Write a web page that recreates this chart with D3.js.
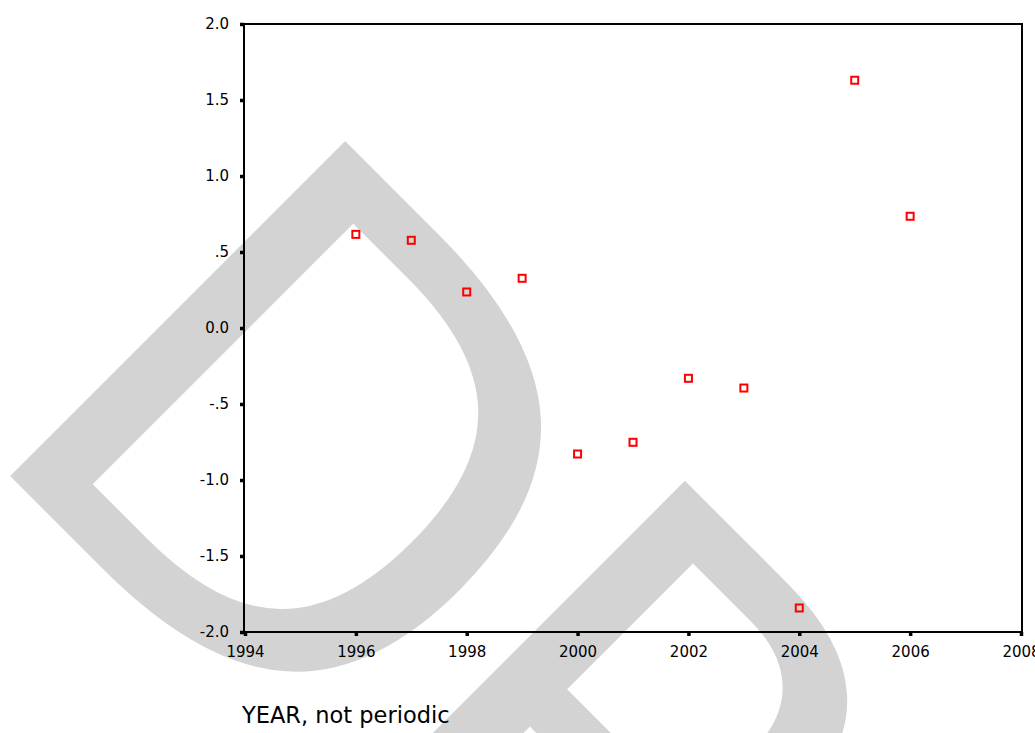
<!DOCTYPE html>
<html>
<head>
<meta charset="utf-8">
<script src="https://cdn.jsdelivr.net/npm/d3@7"></script>
<style>
  body { margin: 0; background: #fff; }
  svg { display: block; font-family: "DejaVu Sans", sans-serif; }
</style>
</head>
<body>
<svg id="chart"></svg>
<script>
// values
var years = [1996, 1997, 1998, 1999, 2000, 2001, 2002, 2003, 2004, 2005, 2006];
var values = [0.616, 0.577, 0.237, 0.327, -0.829, -0.752, -0.331, -0.395, -1.842, 1.630, 0.735];
var xTicks = [1994, 1996, 1998, 2000, 2002, 2004, 2006, 2008];
var yTicks = [-2, -1.5, -1, -0.5, 0, 0.5, 1, 1.5, 2];
var yTickLabels = ['-2.0', '-1.5', '-1.0', '-.5', '0.0', '.5', '1.0', '1.5', '2.0'];
var xTitle = 'YEAR, not periodic';

var width = 1035, height = 733;
var plotLeft = 244, plotTop = 24, plotRight = 1022, plotBottom = 632;

var svg = d3.select('#chart')
    .attr('width', width)
    .attr('height', height);

// watermark behind everything
svg.append('text')
    .attr('transform', 'translate(-35,431) rotate(45)')
    .style('font-size', '650px')
    .style('letter-spacing', '-20px')
    .attr('fill', '#d3d3d3')
    .text('DP');

var x = d3.scaleLinear().domain([1994, 2008]).range([plotLeft + 1, plotRight - 1]);
var y = d3.scaleLinear().domain([-2, 2]).range([plotBottom, plotTop]);

var yAxis = svg.append('g')
    .attr('transform', `translate(${plotLeft},0)`)
    .call(d3.axisLeft(y)
        .tickValues(yTicks)
        .tickFormat((d, i) => yTickLabels[i])
        .tickSize(4)
        .tickPadding(11));

var xAxis = svg.append('g')
    .attr('transform', `translate(0,${plotBottom})`)
    .call(d3.axisBottom(x)
        .tickValues(xTicks)
        .tickFormat(d3.format('d'))
        .tickSize(4)
        .tickPadding(10));

[xAxis, yAxis].forEach(g => {
    g.select('.domain').remove();
    g.selectAll('.tick line').attr('stroke', '#000').attr('stroke-width', 3.5);
    g.selectAll('.tick text')
        .attr('fill', '#000')
        .style('font-size', '15px')
        .style('font-family', '"DejaVu Sans", sans-serif');
});

svg.append('rect')
    .attr('x', plotLeft)
    .attr('y', plotTop)
    .attr('width', plotRight - plotLeft)
    .attr('height', plotBottom - plotTop)
    .attr('fill', 'none')
    .attr('stroke', '#000')
    .attr('stroke-width', 2);

svg.append('g')
    .selectAll('rect')
    .data(years.map((d, i) => ({year: d, value: values[i]})))
    .enter()
    .append('rect')
        .attr('x', d => x(d.year) - 3.5)
        .attr('y', d => y(d.value) - 3.5)
        .attr('width', 7)
        .attr('height', 7)
        .attr('fill', 'none')
        .attr('stroke', '#ff0000')
        .attr('stroke-width', 2);

svg.append('text')
    .attr('x', 242)
    .attr('y', 723)
    .style('font-size', '22.5px')
    .attr('fill', '#000')
    .text(xTitle);
</script>
</body>
</html>
